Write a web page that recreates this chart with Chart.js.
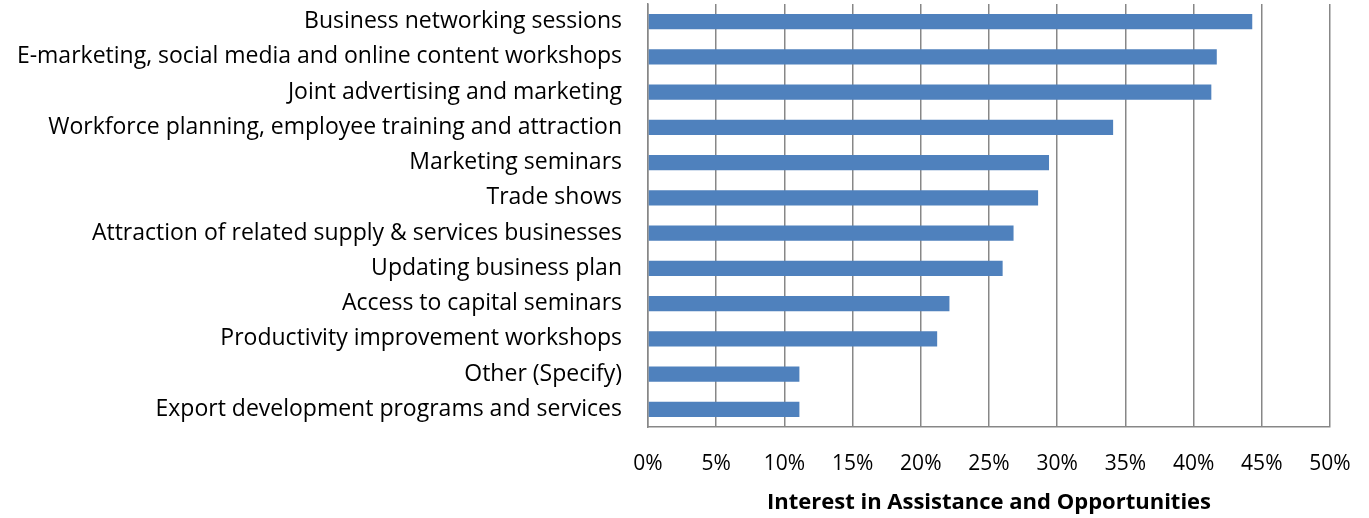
<!DOCTYPE html>
<html>
<head>
<style>
    body { margin: 0; background: #fff; }
    #wrap { width: 1369px; height: 518px; }
</style>
</head>
<body>
<div id="wrap"><canvas id="chart"></canvas></div>

<script src="https://cdn.jsdelivr.net/npm/chart.js@4/dist/chart.umd.min.js"></script>
<script>
    const categories = [
        'Business networking sessions',
        'E-marketing, social media and online content workshops',
        'Joint advertising and marketing',
        'Workforce planning, employee training and attraction',
        'Marketing seminars',
        'Trade shows',
        'Attraction of related supply & services businesses',
        'Updating business plan',
        'Access to capital seminars',
        'Productivity improvement workshops',
        'Other (Specify)',
        'Export development programs and services'
    ];

    // percent of respondents
    const interest = [44.3, 41.7, 41.3, 34.1, 29.4, 28.6, 26.8, 26.0, 22.1, 21.2, 11.1, 11.1];

    const xTicks = [0, 5, 10, 15, 20, 25, 30, 35, 40, 45, 50];
    const axisTitle = 'Interest in Assistance and Opportunities';

    const fontFamily = '"Open Sans", Lato, sans-serif';
    const gridGray = '#878787';

    const ctx = document.getElementById('chart').getContext('2d');
    const chart = new Chart(ctx, {
        type: 'bar',
        data: {
            labels: categories,
            datasets: [{
                data: interest,
                backgroundColor: '#4f81bd',
                barPercentage: 0.86,
                categoryPercentage: 0.5
            }]
        },
        options: {
            indexAxis: 'y',
            responsive: true,
            maintainAspectRatio: false,
            animation: false,
            layout: { padding: { top: 4, right: 39, bottom: 0, left: 0 } },
            plugins: {
                legend: { display: false },
                tooltip: { enabled: false }
            },
            scales: {
                x: {
                    min: 0,
                    max: 50,
                    afterBuildTicks: (scale) => {
                        scale.ticks = xTicks.map(v => ({ value: v }));
                    },
                    afterFit: (scale) => {
                        scale.height = 91;
                        scale.paddingLeft = 0;
                        scale.paddingRight = 0;
                    },
                    ticks: {
                        callback: (v) => v + '%',
                        color: '#000',
                        padding: 24,
                        maxRotation: 0,
                        font: { family: fontFamily, size: 21 }
                    },
                    grid: {
                        color: gridGray,
                        lineWidth: 1.5,
                        drawTicks: false
                    },
                    border: { color: gridGray, width: 1.5 },
                    title: {
                        display: true,
                        text: axisTitle,
                        color: '#000',
                        padding: { top: 6, bottom: 2 },
                        font: { family: fontFamily, size: 22, weight: 'bold' }
                    }
                },
                y: {
                    afterFit: (scale) => {
                        scale.width = 648;
                        scale.paddingTop = 0;
                        scale.paddingBottom = 0;
                    },
                    ticks: {
                        color: '#000',
                        padding: 26,
                        autoSkip: false,
                        font: { family: fontFamily, size: 23 }
                    },
                    grid: { display: false, drawTicks: false },
                    border: { color: gridGray, width: 1.5 }
                }
            }
        }
    });
</script>
</body>
</html>
